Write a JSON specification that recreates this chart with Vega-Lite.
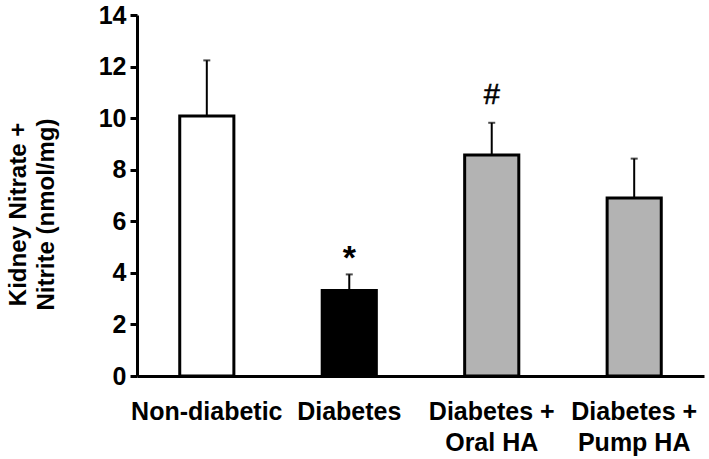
{
  "$schema": "https://vega.github.io/schema/vega-lite/v6.json",
  "width": 567,
  "height": 361,
  "autosize": {"type": "none"},
  "padding": {"left": 137, "top": 15, "right": 5, "bottom": 83},
  "background": "white",
  "data": {
    "values": [
      {"group": "Non-diabetic", "value": 10.08, "upper": 12.24, "mark": ""},
      {"group": "Diabetes", "value": 3.32, "upper": 3.94, "mark": "*"},
      {"group": "Diabetes + Oral HA", "value": 8.57, "upper": 9.82, "mark": "#"},
      {"group": "Diabetes + Pump HA", "value": 6.9, "upper": 8.43, "mark": ""}
    ]
  },
  "encoding": {
    "x": {
      "field": "group",
      "type": "nominal",
      "sort": null,
      "scale": {"paddingInner": 0.62, "paddingOuter": 0.3},
      "axis": {
        "title": null,
        "labelAngle": 0,
        "ticks": false,
        "labelPadding": 23,
        "labelFontSize": 25,
        "labelLineHeight": 31,
        "labelExpr": "indexof(datum.value, ' + ') > 0 ? [slice(datum.value, 0, indexof(datum.value, ' + ') + 2), slice(datum.value, indexof(datum.value, ' + ') + 3)] : datum.value"
      }
    }
  },
  "layer": [
    {
      "mark": {"type": "bar", "stroke": "black", "strokeWidth": 3},
      "encoding": {
        "y": {
          "field": "value",
          "type": "quantitative",
          "scale": {"domain": [0, 14], "nice": false},
          "axis": {
            "values": [0, 2, 4, 6, 8, 10, 12, 14],
            "title": ["Kidney Nitrate +", "Nitrite (nmol/mg)"],
            "titleFontSize": 24,
            "titleLineHeight": 28,
            "titleAngle": -90,
            "titleBaseline": "top",
            "titleAlign": "center",
            "titleX": -131,
            "titleY": 199,
            "labelFontSize": 25,
            "labelPadding": 4,
            "tickSize": 7
          }
        },
        "fill": {
          "field": "group",
          "type": "nominal",
          "scale": {
            "domain": ["Non-diabetic", "Diabetes", "Diabetes + Oral HA", "Diabetes + Pump HA"],
            "range": ["#ffffff", "#000000", "#b3b3b3", "#b3b3b3"]
          },
          "legend": null
        }
      }
    },
    {
      "mark": {"type": "rule", "color": "black", "strokeWidth": 2},
      "encoding": {
        "y": {"field": "value", "type": "quantitative"},
        "y2": {"field": "upper"}
      }
    },
    {
      "mark": {"type": "tick", "color": "black", "size": 7, "thickness": 2, "orient": "horizontal"},
      "encoding": {
        "y": {"field": "upper", "type": "quantitative"}
      }
    },
    {
      "transform": [{"filter": "datum.mark == '*'"}],
      "mark": {"type": "text", "fontSize": 34, "fontWeight": "bold", "baseline": "alphabetic", "dy": -5, "font": "Liberation Sans", "color": "black"},
      "encoding": {
        "y": {"field": "upper", "type": "quantitative"},
        "text": {"field": "mark"}
      }
    },
    {
      "transform": [{"filter": "datum.mark == '#'"}],
      "mark": {"type": "text", "fontSize": 29, "fontWeight": "normal", "baseline": "alphabetic", "dy": -19, "font": "Liberation Sans", "color": "black", "stroke": "black", "strokeWidth": 0.6},
      "encoding": {
        "y": {"field": "upper", "type": "quantitative"},
        "text": {"field": "mark"}
      }
    }
  ],
  "config": {
    "view": {"stroke": null},
    "font": "Liberation Sans",
    "axis": {
      "grid": false,
      "domainColor": "black",
      "domainWidth": 3,
      "tickColor": "black",
      "tickWidth": 3,
      "labelColor": "black",
      "titleColor": "black",
      "labelFont": "Liberation Sans",
      "titleFont": "Liberation Sans",
      "labelFontWeight": "bold",
      "titleFontWeight": "bold"
    }
  }
}
